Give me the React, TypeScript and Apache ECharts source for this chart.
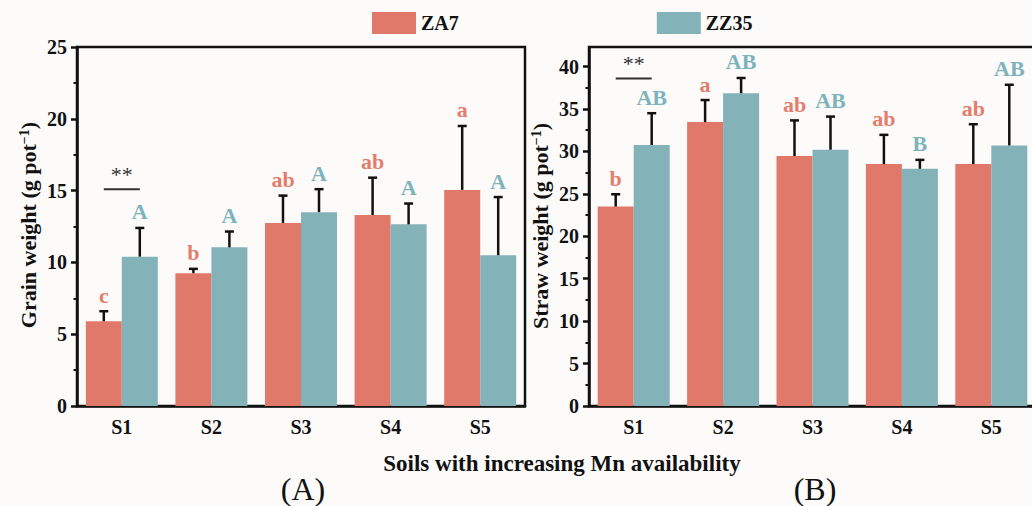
import React, { useEffect, useRef } from "react";
import * as echarts from "echarts";

const categories = ["S1", "S2", "S3", "S4", "S5"];

const grainZA7 = [5.9, 9.25, 12.75, 13.3, 15.05];
const grainZA7Err = [0.7, 0.3, 1.9, 2.6, 4.45];
const grainZZ35 = [10.4, 11.05, 13.5, 12.65, 10.5];
const grainZZ35Err = [2.0, 1.1, 1.6, 1.45, 4.05];
const grainZA7Letters = ["c", "b", "ab", "ab", "a"];
const grainZZ35Letters = ["A", "A", "A", "A", "A"];
const grainSig = [[0, 15.1]];

const strawZA7 = [23.5, 33.45, 29.45, 28.5, 28.5];
const strawZA7Err = [1.45, 2.6, 4.2, 3.45, 4.7];
const strawZZ35 = [30.75, 36.85, 30.2, 27.95, 30.7];
const strawZZ35Err = [3.75, 1.8, 3.9, 1.05, 7.15];
const strawZA7Letters = ["b", "a", "ab", "ab", "ab"];
const strawZZ35Letters = ["AB", "AB", "AB", "B", "AB"];
const strawSig = [[0, 38.6]];

const grainTicks = [0, 5, 10, 15, 20, 25];
const strawTicks = [0, 5, 10, 15, 20, 25, 30, 35, 40];
const strawMinorTicks = [2.5, 7.5, 12.5, 17.5, 22.5, 27.5, 32.5, 37.5];

const FONT = '"Liberation Serif", "Times New Roman", serif';
const RED = "#E07969";
const TEAL = "#84B2B9";
const RED_TXT = "#E47D6C";
const TEAL_TXT = "#7DB4BC";
const INK = "#111";
const BAR_W = 36;

function errSeries(means: number[], errs: number[], letters: string[], color: string, sign: number, gi: number) {
  return {
    type: "custom",
    xAxisIndex: gi,
    yAxisIndex: gi,
    z: 5,
    data: means.map((m, i) => [i, m, errs[i]]),
    renderItem: (params: any, api: any) => {
      const i = api.value(0);
      const m = api.value(1);
      const e = api.value(2);
      const base = api.coord([i, m]);
      const top = api.coord([i, m + e]);
      const x = base[0] + (sign * BAR_W) / 2;
      return {
        type: "group",
        children: [
          { type: "line", shape: { x1: x, y1: base[1], x2: x, y2: top[1] }, style: { stroke: INK, lineWidth: 2.5 } },
          { type: "line", shape: { x1: x - 4.5, y1: top[1], x2: x + 4.5, y2: top[1] }, style: { stroke: INK, lineWidth: 2.5 } },
          {
            type: "text",
            x,
            y: top[1] - 5,
            style: {
              text: letters[i],
              fill: color,
              fontSize: 22,
              fontWeight: "bold",
              fontFamily: FONT,
              align: "center",
              verticalAlign: "bottom",
            },
          },
        ],
      };
    },
  };
}

function sigSeries(points: number[][], gi: number) {
  return {
    type: "custom",
    xAxisIndex: gi,
    yAxisIndex: gi,
    z: 5,
    data: points,
    renderItem: (params: any, api: any) => {
      const p = api.coord([api.value(0), api.value(1)]);
      const half = BAR_W / 2;
      return {
        type: "group",
        children: [
          { type: "line", shape: { x1: p[0] - half, y1: p[1], x2: p[0] + half, y2: p[1] }, style: { stroke: "#333", lineWidth: 2 } },
          {
            type: "text",
            x: p[0],
            y: p[1] - 15,
            style: { text: "**", fill: "#333", fontSize: 22, fontFamily: FONT, align: "center", verticalAlign: "middle" },
          },
        ],
      };
    },
  };
}

const axisText = { color: INK, fontSize: 20, fontWeight: "bold", fontFamily: FONT };

function xAxisDef(gi: number) {
  return {
    type: "category",
    gridIndex: gi,
    data: categories,
    axisLine: { lineStyle: { color: INK, width: 2.5 } },
    axisTick: { alignWithLabel: true, length: 6, lineStyle: { color: INK, width: 2.5 } },
    axisLabel: { ...axisText, margin: 11 },
    splitLine: { show: false },
  };
}

export default function App() {
  const ref = useRef<HTMLDivElement>(null);
  useEffect(() => {
    if (!ref.current) return;
    const chart = echarts.init(ref.current, undefined, { renderer: "svg" });
    const titleRich = (label: string) => ({
      text: `{a|${label} (g pot}{b|−1}{a|)}`,
      rich: {
        a: { fontSize: 22, fontWeight: "bold", fontFamily: FONT, fill: INK, color: INK },
        b: { fontSize: 14, fontWeight: "bold", fontFamily: FONT, fill: INK, color: INK, verticalAlign: "top" },
      },
    });
    chart.setOption({
      animation: false,
      backgroundColor: "#FDFBFA",
      legend: {
        data: ["ZA7", "ZZ35"],
        left: 372,
        top: 12,
        padding: 0,
        itemWidth: 44,
        itemHeight: 22,
        itemGap: 198,
        icon: "rect",
        textStyle: { ...axisText },
      },
      grid: [
        { left: 77, top: 47, width: 448, height: 359, show: true, borderColor: INK, borderWidth: 2.5, backgroundColor: "transparent", outerBoundsMode: "none", containLabel: false },
        { left: 589, top: 47, width: 447, height: 359, show: true, borderColor: INK, borderWidth: 2.5, backgroundColor: "transparent", outerBoundsMode: "none", containLabel: false },
      ],
      xAxis: [xAxisDef(0), xAxisDef(1)],
      yAxis: [
        {
          type: "value",
          gridIndex: 0,
          min: 0,
          max: 25,
          interval: 5,
          axisLine: { show: true, lineStyle: { color: INK, width: 2.5 } },
          axisTick: { show: true, length: 6, lineStyle: { color: INK, width: 2.5 } },
          minorTick: { show: true, splitNumber: 2, length: 3.5, lineStyle: { color: INK, width: 2 } },
          axisLabel: { ...axisText, margin: 10, customValues: grainTicks },
          splitLine: { show: false },
          minorSplitLine: { show: false },
        },
        {
          type: "value",
          gridIndex: 1,
          min: 0,
          max: 42.3,
          interval: 5,
          axisLine: { show: true, lineStyle: { color: INK, width: 2.5 } },
          axisTick: { show: true, length: 6, lineStyle: { color: INK, width: 2.5 }, customValues: strawTicks },
          axisLabel: { ...axisText, margin: 10, customValues: strawTicks },
          splitLine: { show: false },
        },
        {
          type: "value",
          gridIndex: 1,
          position: "left",
          min: 0,
          max: 42.3,
          interval: 5,
          axisLine: { show: false },
          axisTick: { show: true, length: 3.5, lineStyle: { color: INK, width: 2 }, customValues: strawMinorTicks },
          axisLabel: { show: false },
          splitLine: { show: false },
        },
      ],
      series: [
        { name: "ZA7", type: "bar", xAxisIndex: 0, yAxisIndex: 0, data: grainZA7, barWidth: BAR_W, barGap: "0%", itemStyle: { color: RED } },
        { name: "ZZ35", type: "bar", xAxisIndex: 0, yAxisIndex: 0, data: grainZZ35, barWidth: BAR_W, barGap: "0%", itemStyle: { color: TEAL } },
        { name: "ZA7", type: "bar", xAxisIndex: 1, yAxisIndex: 1, data: strawZA7, barWidth: BAR_W, barGap: "0%", itemStyle: { color: RED } },
        { name: "ZZ35", type: "bar", xAxisIndex: 1, yAxisIndex: 1, data: strawZZ35, barWidth: BAR_W, barGap: "0%", itemStyle: { color: TEAL } },
        errSeries(grainZA7, grainZA7Err, grainZA7Letters, RED_TXT, -1, 0),
        errSeries(grainZZ35, grainZZ35Err, grainZZ35Letters, TEAL_TXT, 1, 0),
        errSeries(strawZA7, strawZA7Err, strawZA7Letters, RED_TXT, -1, 1),
        errSeries(strawZZ35, strawZZ35Err, strawZZ35Letters, TEAL_TXT, 1, 1),
        sigSeries(grainSig, 0),
        sigSeries(strawSig, 1),
      ],
      graphic: [
        {
          type: "text",
          x: 28,
          y: 225,
          rotation: Math.PI / 2,
          style: { ...titleRich("Grain weight"), align: "center", verticalAlign: "middle" },
        },
        {
          type: "text",
          x: 540,
          y: 226,
          rotation: Math.PI / 2,
          style: { ...titleRich("Straw weight"), align: "center", verticalAlign: "middle" },
        },
        {
          type: "text",
          x: 562,
          y: 463,
          style: {
            text: "Soils with increasing Mn availability",
            fill: INK,
            fontSize: 23,
            fontWeight: "bold",
            fontFamily: FONT,
            align: "center",
            verticalAlign: "middle",
          },
        },
        {
          type: "text",
          x: 303,
          y: 489,
          style: { text: "(A)", fill: INK, fontSize: 32, fontFamily: FONT, align: "center", verticalAlign: "middle" },
        },
        {
          type: "text",
          x: 815,
          y: 489,
          style: { text: "(B)", fill: INK, fontSize: 32, fontFamily: FONT, align: "center", verticalAlign: "middle" },
        },
      ],
    });
    return () => chart.dispose();
  }, []);
  return <div ref={ref} style={{ position: "fixed", left: 0, top: 0, width: 1032, height: 506 }} />;
}
